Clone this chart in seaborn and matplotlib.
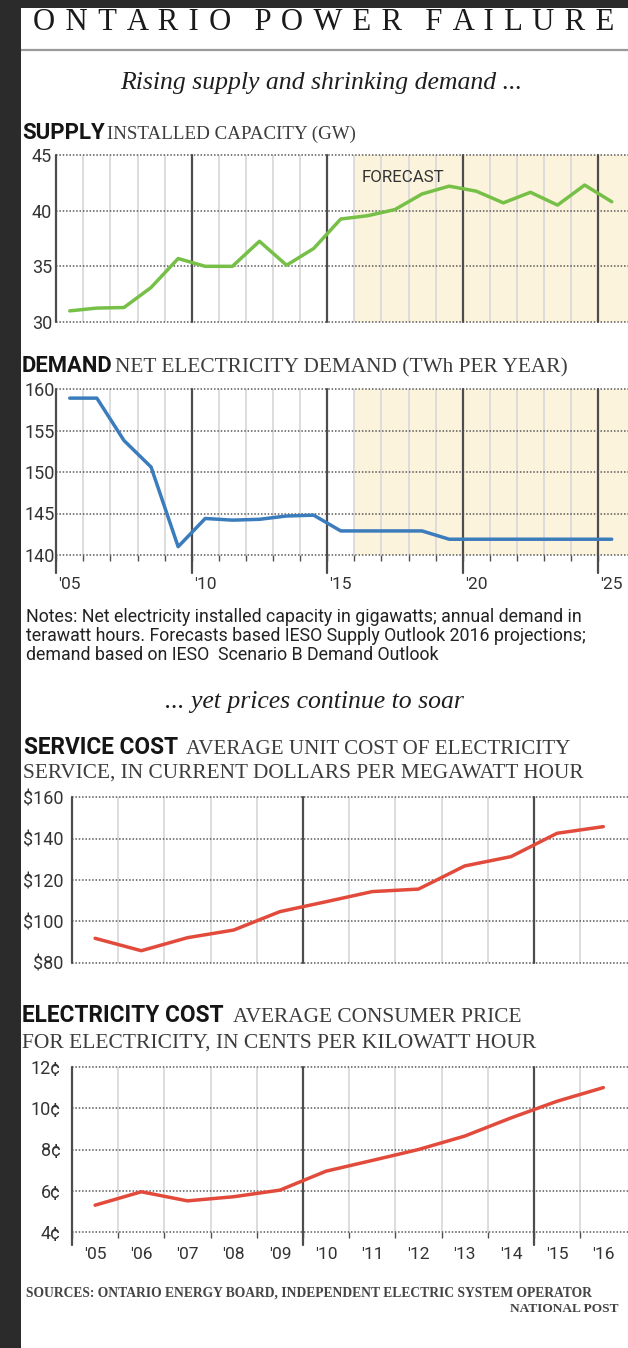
import numpy as np
import pandas as pd
import matplotlib
matplotlib.use("Agg")
import matplotlib.pyplot as plt
from matplotlib.patches import Rectangle
from matplotlib.lines import Line2D
import seaborn as sns

# ---------------- data ----------------
supply_years = list(range(2005, 2026))
supply_gw = [31.0, 31.25, 31.3, 33.1, 35.7, 35.0, 35.0, 37.25, 35.1, 36.6, 39.25,
             39.55, 40.1, 41.5, 42.2, 41.75, 40.7, 41.65, 40.5, 42.3, 40.8]
supply_ticks = [30, 35, 40, 45]
supply_ticklabels = ["30", "35", "40", "45"]

demand_years = list(range(2005, 2026))
demand_twh = [158.9, 158.9, 153.8, 150.6, 141.0, 144.4, 144.2, 144.3, 144.7, 144.8, 142.9,
              142.9, 142.9, 142.9, 141.9, 141.9, 141.9, 141.9, 141.9, 141.9, 141.9]
demand_ticks = [140, 145, 150, 155, 160]
demand_ticklabels = ["140", "145", "150", "155", "160"]
demand_label_years = [2005, 2010, 2015, 2020, 2025]
demand_label_texts = ["'05", "'10", "'15", "'20", "'25"]
forecast_start = 2015.5

service_years = list(range(2005, 2017))
service_cost = [91.8, 85.8, 92.1, 95.8, 104.7, 109.5, 114.4, 115.6, 126.8, 131.3, 142.6, 145.8]
service_ticks = [80, 100, 120, 140, 160]
service_ticklabels = ["$80", "$100", "$120", "$140", "$160"]

elec_years = list(range(2005, 2017))
elec_cents = [5.30, 5.95, 5.51, 5.71, 6.03, 6.95, 7.47, 8.0, 8.65, 9.53, 10.34, 11.0]
elec_ticks = [4, 6, 8, 10, 12]
elec_ticklabels = ["4¢", "6¢", "8¢", "10¢", "12¢"]
elec_label_texts = ["'05", "'06", "'07", "'08", "'09", "'10", "'11", "'12", "'13", "'14", "'15", "'16"]

# ---------------- style ----------------
W, H, DPI = 628, 1348, 100
sns.set_theme(style="white")
COND = ["Liberation Sans Narrow", "Roboto", "DejaVu Sans"]
SERIF = ["Liberation Serif", "DejaVu Serif"]
plt.rcParams["font.family"] = COND

GREEN = "#76c047"
BLUE = "#3b7cbc"
RED = "#e24b3b"
SHADE = "#fcf3dc"
DARK = "#4d4d4d"
LIGHT = "#dadada"
DOT = "#5a5a5a"

fig = plt.figure(figsize=(W / DPI, H / DPI), dpi=DPI, facecolor="white")
R = fig.canvas.get_renderer()


def rect(l, t, r, b):
    return [l / W, 1 - b / H, (r - l) / W, (b - t) / H]


def fit(x0, x1, yb, s, family, weight="normal", style="normal", color="#222"):
    t = fig.text(x0 / W, 1 - yb / H, s, family=family, weight=weight, style=style,
                 color=color, fontsize=10, va="baseline", ha="left")
    w = t.get_window_extent(renderer=R).width
    fs = 10 * (x1 - x0) / w
    t.set_fontsize(fs)
    return fs


def panel(ax, years, values, color, ylim, yticks, ylabels, xlim, ypad,
          label_years=None, label_texts=None, xpad=12, ext=0.0, forecast=None):
    df = pd.DataFrame({"year": years, "value": values})
    ax.set_xlim(*xlim)
    ax.set_ylim(*ylim)
    for s in ax.spines.values():
        s.set_visible(False)
    ax.set_facecolor("none")
    ax.patch.set_alpha(0)
    if forecast is not None:
        ax.axvspan(forecast, xlim[1], color=SHADE, lw=0, zorder=0)
    bounds = np.array(years, dtype=float) - 0.5
    for b in bounds:
        if int(round(b + 0.5)) % 5 == 0:
            ax.axvline(b, ymin=-ext, ymax=1, color=DARK, lw=1.6, zorder=2, clip_on=False)
        else:
            ax.axvline(b, color=LIGHT, lw=1.3, zorder=1)
    for v in yticks:
        ax.axhline(v, color=DOT, lw=1.1, ls=(0, (1, 1.2)), zorder=1.5, clip_on=False)
    sns.lineplot(data=df, x="year", y="value", ax=ax, color=color, linewidth=2.5,
                 zorder=3, solid_joinstyle="round", solid_capstyle="round")
    ax.set_xlabel("")
    ax.set_ylabel("")
    ax.set_yticks(yticks, ylabels)
    ax.tick_params(axis="y", length=0, pad=ypad, labelsize=13, labelcolor="#333")
    if label_years is not None:
        ax.set_xticks(label_years, label_texts)
        ax.set_xticks(bounds, minor=True)
        ax.tick_params(axis="x", which="major", length=0, pad=xpad, labelsize=12.5,
                       labelcolor="#333")
        ax.tick_params(axis="x", which="minor", length=4, width=1, color=DARK,
                       direction="out", bottom=True)
    else:
        ax.set_xticks([])
    ax.grid(False)


# ---------------- texts ----------------
TITLE = "ONTARIO POWER FAILURE"
title_disp = "   ".join(" \u200a".join(w) for w in TITLE.split())
fit(33, 613, 30, title_disp, SERIF, color="#1a1a1a")
fig.add_artist(Line2D([21 / W, 1], [1 - 50 / H] * 2, color="#9a9a9a", lw=1.6))

fit(120, 524, 89, "Rising supply and shrinking demand ...", SERIF, style="italic", color="#1e1e1e")

fit(22, 104, 139, "SUPPLY", COND, weight="bold", color="#151515")
fit(107, 356, 139, "INSTALLED CAPACITY (GW)", SERIF, color="#3c3c3c")

fit(22, 113, 372, "DEMAND", COND, weight="bold", color="#151515")
fit(115, 568, 372, "NET ELECTRICITY DEMAND (TWh PER YEAR)", SERIF, color="#3c3c3c")

notes = ["Notes: Net electricity installed capacity in gigawatts; annual demand in",
         "terawatt hours. Forecasts based IESO Supply Outlook 2016 projections;",
         "demand based on IESO  Scenario B Demand Outlook"]
fs_n = fit(26, 581, 622, notes[0], COND, color="#222")
for i, line in enumerate(notes[1:], start=1):
    fig.text(26 / W, 1 - (622 + 19 * i) / H, line, family=COND, color="#222",
             fontsize=fs_n, va="baseline", ha="left")

fit(165, 465, 708, "... yet prices continue to soar", SERIF, style="italic", color="#1e1e1e")

fit(24, 178, 754, "SERVICE COST", COND, weight="bold", color="#151515")
fit(186, 570, 754, "AVERAGE UNIT COST OF ELECTRICITY", SERIF, color="#3c3c3c")
fit(23, 586, 778, "SERVICE, IN CURRENT DOLLARS PER MEGAWATT HOUR", SERIF, color="#3c3c3c")

fit(22, 222, 1022, "ELECTRICITY COST", COND, weight="bold", color="#151515")
fit(233, 522, 1022, "AVERAGE CONSUMER PRICE", SERIF, color="#3c3c3c")
fit(22, 538, 1048, "FOR ELECTRICITY, IN CENTS PER KILOWATT HOUR", SERIF, color="#3c3c3c")

fit(26, 590, 1297, "SOURCES: ONTARIO ENERGY BOARD, INDEPENDENT ELECTRIC SYSTEM OPERATOR",
    SERIF, weight="bold", color="#444")
fit(510, 618, 1312, "NATIONAL POST", SERIF, weight="bold", color="#444")

# ---------------- charts ----------------
x_long = (2004.5, 2004.5 + (628 - 56.2) / 27.1)
x_short = (2004.5, 2004.5 + (628 - 72.0) / 46.2)

ax1 = fig.add_axes(rect(56.2, 155, 628, 322))
panel(ax1, supply_years, supply_gw, GREEN, (30, 45), supply_ticks, supply_ticklabels,
      x_long, ypad=3, forecast=forecast_start)
t = ax1.text(forecast_start + 0.27, 42.6, "FORECAST", family=COND, color="#333",
             fontsize=10, va="baseline", ha="left", zorder=4)
t.set_fontsize(10 * 82 / t.get_window_extent(renderer=R).width)

ax2 = fig.add_axes(rect(56.2, 389, 628, 555))
panel(ax2, demand_years, demand_twh, BLUE, (140, 160), demand_ticks, demand_ticklabels,
      x_long, ypad=1, label_years=demand_label_years, label_texts=demand_label_texts,
      xpad=16, ext=18 / 166, forecast=forecast_start)

ax3 = fig.add_axes(rect(72.0, 797.3, 628, 962.7))
panel(ax3, service_years, service_cost, RED, (80, 160), service_ticks, service_ticklabels,
      x_short, ypad=6)

ax4 = fig.add_axes(rect(72.0, 1067, 628, 1232))
panel(ax4, elec_years, elec_cents, RED, (4, 12), elec_ticks, elec_ticklabels,
      x_short, ypad=8, label_years=elec_years, label_texts=elec_label_texts,
      xpad=11, ext=13 / 165)

# dark frame strips of the original page
fig.add_artist(Rectangle((0, 0), 21 / W, 1, transform=fig.transFigure,
                         color="#2b2b2b", zorder=100, lw=0))
fig.add_artist(Rectangle((0, 1 - 8 / H), 1, 8 / H, transform=fig.transFigure,
                         color="#2b2b2b", zorder=100, lw=0))

fig.savefig("out.png", dpi=DPI, facecolor="white")
